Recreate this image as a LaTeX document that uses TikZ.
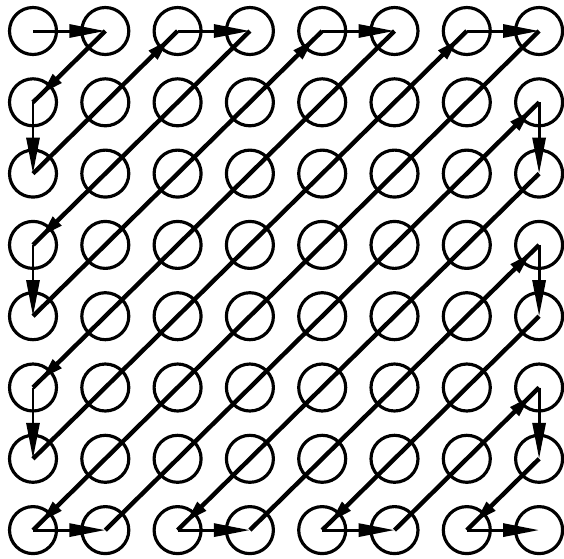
\documentclass[tikz,border=0pt]{standalone}
\usetikzlibrary{arrows.meta,decorations.markings}
\begin{document}
\begin{tikzpicture}[
    cell/.style={draw, circle, line width=1.8pt, minimum size=0.94cm, inner sep=0pt},
    hv/.style={line width=1.7pt, -{Triangle[length=0.72cm, width=0.26cm]}},
    dg/.style={line width=2.5pt, postaction={decorate},
               decoration={markings,
                 mark=at position -0.24cm with {\arrow{Triangle[length=0.44cm, width=0.23cm]}}}}
  ]
  \useasboundingbox (0,0) rectangle (11.28,-11.16);
  \foreach \i in {0,...,7}
    \foreach \j in {0,...,7}
      \node[cell] (c\i\j) at ({0.66+1.446*\i}, {-0.62-1.426*\j}) {};

  % horizontal and vertical steps
  \foreach \a/\b in {00/10, 01/02, 20/30, 03/04, 40/50, 05/06, 60/70,
                     07/17, 71/72, 27/37, 73/74, 47/57, 75/76, 67/77}
    \draw[hv] (c\a.center) -- (c\b.center);
  % diagonal runs
  \foreach \a/\b in {10/01, 02/20, 30/03, 04/40, 50/05, 06/60, 70/07,
                     17/71, 72/27, 37/73, 74/47, 57/75, 76/67}
    \draw[dg] (c\a.center) -- (c\b.center);
\end{tikzpicture}
\end{document}
